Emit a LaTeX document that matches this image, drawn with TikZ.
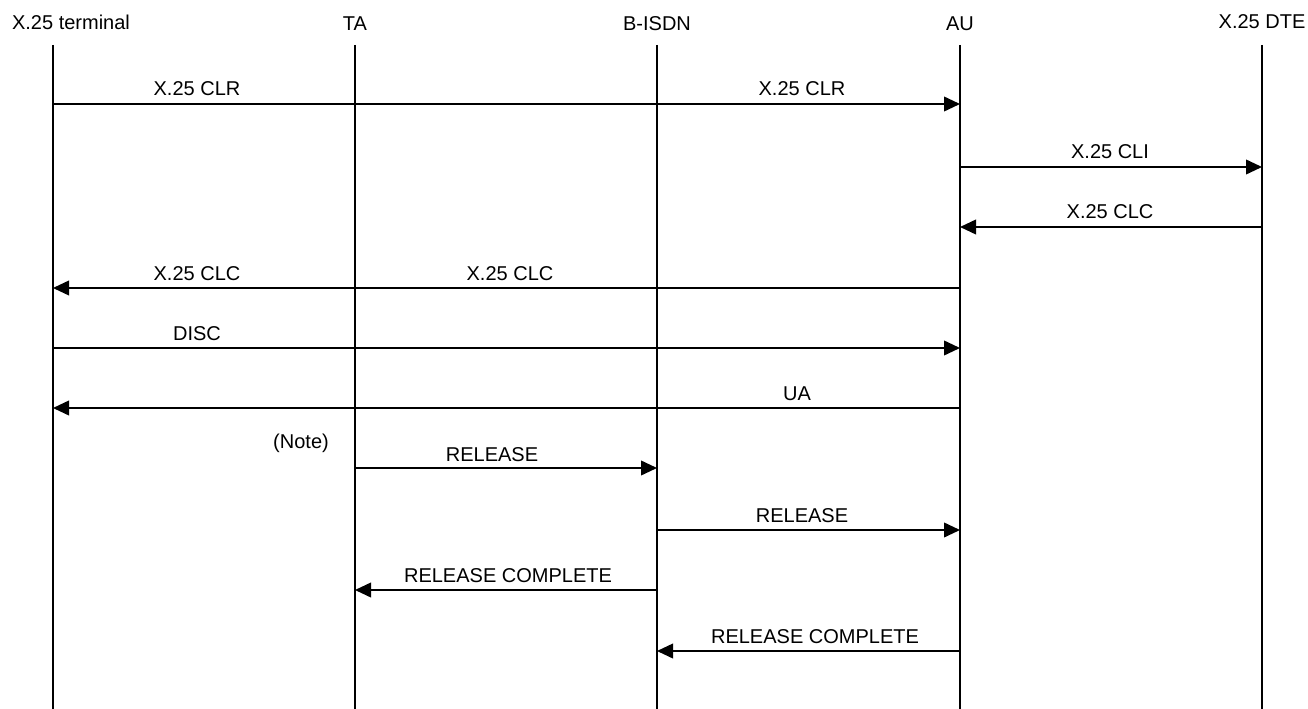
\documentclass[tikz,border=0pt]{standalone}
\usepackage{fontspec}
\setmainfont{Liberation Sans}
\usetikzlibrary{arrows.meta}
\begin{document}
\begin{tikzpicture}[x=0.75pt,y=-0.75pt,
  hdr/.style={font=\fontsize{15}{17}\selectfont, inner sep=0pt},
  lbl/.style={font=\fontsize{15}{17}\selectfont, inner sep=0pt, anchor=base},
  life/.style={line width=1.3pt},
  msg/.style={line width=1.3pt, -{Triangle[length=12pt,width=11pt]}}]
\useasboundingbox (0,0) rectangle (1308,709);
% headers
\node[hdr] (h1) at (71,22) {X.25 terminal};
\node[hdr] (h2) at (355,24) {TA};
\node[hdr] (h3) at (657,24) {B-ISDN};
\node[hdr] (h4) at (960,24) {AU};
\node[hdr] (h5) at (1262,22) {X.25 DTE};
% lifelines
\coordinate (t1) at (53,45);   \coordinate (b1) at (53,709);
\coordinate (t2) at (355,45);  \coordinate (b2) at (355,709);
\coordinate (t3) at (657,45);  \coordinate (b3) at (657,709);
\coordinate (t4) at (960,45);  \coordinate (b4) at (960,709);
\coordinate (t5) at (1262,45); \coordinate (b5) at (1262,709);
\foreach \i in {1,...,5} \draw[life] (t\i) -- (b\i);
% messages
\draw[msg] (t1 |- 0,104) -- (t4 |- 0,104);
\node[lbl] (m1a) at (197,96) {X.25 CLR};
\node[lbl] (m1b) at (802,96) {X.25 CLR};

\draw[msg] (t4 |- 0,167) -- (t5 |- 0,167);
\node[lbl] (m2) at (1110,159) {X.25 CLI};

\draw[msg] (t5 |- 0,227) -- (t4 |- 0,227);
\node[lbl] (m3) at (1110,219) {X.25 CLC};

\draw[msg] (t4 |- 0,288) -- (t1 |- 0,288);
\node[lbl] (m4a) at (197,280) {X.25 CLC};
\node[lbl] (m4b) at (510,280) {X.25 CLC};

\draw[msg] (t1 |- 0,348) -- (t4 |- 0,348);
\node[lbl] (m5) at (197,340) {DISC};

\draw[msg] (t4 |- 0,408) -- (t1 |- 0,408);
\node[lbl] (m6) at (797,400) {UA};

\node[lbl] (note) at (301,448) {(Note)};
\draw[msg] (t2 |- 0,468) -- (t3 |- 0,468);
\node[lbl] (m7) at (492,461) {RELEASE};

\draw[msg] (t3 |- 0,530) -- (t4 |- 0,530);
\node[lbl] (m8) at (802,522) {RELEASE};

\draw[msg] (t3 |- 0,590) -- (t2 |- 0,590);
\node[lbl] (m9) at (508,582) {RELEASE COMPLETE};

\draw[msg] (t4 |- 0,651) -- (t3 |- 0,651);
\node[lbl] (m10) at (815,643) {RELEASE COMPLETE};
\end{tikzpicture}
\end{document}
